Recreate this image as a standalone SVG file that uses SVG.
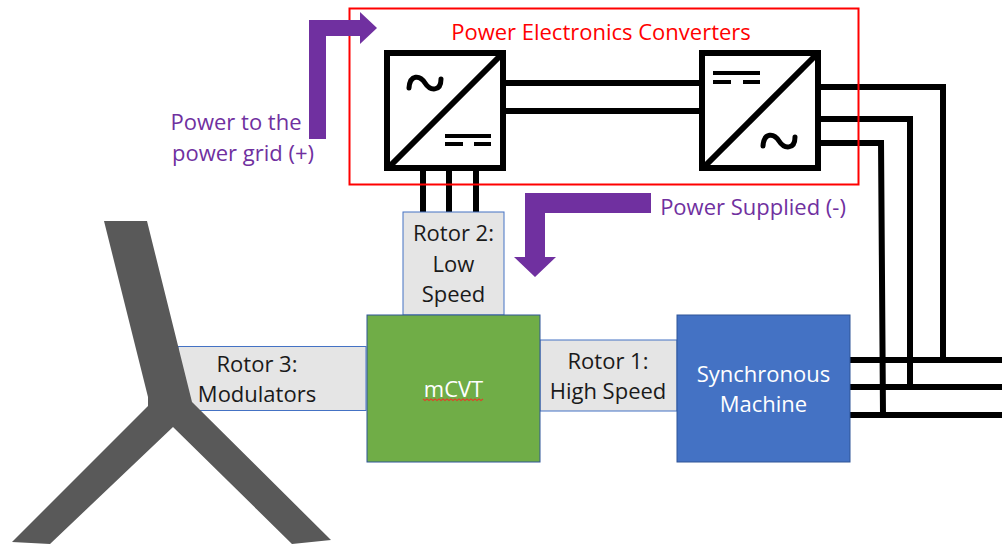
<svg xmlns="http://www.w3.org/2000/svg" width="1002" height="545" viewBox="0 0 1002 545">
<style>
text{font-family:"Open Sans","Noto Sans","Liberation Sans",sans-serif;font-size:22px;text-anchor:middle}
.dark{fill:#1a1a1a}.light{fill:#fff}.pur{fill:#7030a0}.red{fill:#f00}
.rotor{fill:#e5e5e5;stroke:#4472c4;stroke-width:1}
.box{stroke:#2f5597;stroke-width:1}
.wire{fill:none;stroke:#000;stroke-width:6}
.conv{fill:#fff;stroke:#000;stroke-width:6}
.sym{fill:none;stroke:#000;stroke-width:4}
.tilde{fill:none;stroke:#000;stroke-width:5;stroke-linecap:round}
.arrow{fill:#7030a0}
</style>
<rect width="1002" height="545" fill="#fff"/>
<g id="connectors">
<path class="wire" d="M423 171V212M449 171V212M476 171V212"/>
<path class="wire" d="M506 83H700M506 111H700"/>
<path class="wire" d="M821 87H943V360"/>
<path class="wire" d="M821 119H913M910 116V387"/>
<path class="wire" d="M821 143H884M881 140L883 415"/>
<path class="wire" d="M848 360H1002M850 387H1002M850 415H1002"/>
</g>
<g id="rotor3"><rect class="rotor" x="178" y="346.500" width="188" height="64"/><text class="dark" x="257" y="372">Rotor 3:</text><text class="dark" x="257" y="402">Modulators</text></g>
<g id="blades"><path fill="#595959" d="M104 221H147L192 402L331 540L292 544L173 427L50 544L12 542L148 406V397Z"/></g>
<g id="rotor2"><rect class="rotor" x="403" y="212" width="101" height="103"/><text class="dark" x="453.500" y="241">Rotor 2:</text><text class="dark" x="453.500" y="272">Low</text><text class="dark" x="453.500" y="302">Speed</text></g>
<g id="rotor1"><rect class="rotor" x="540" y="340" width="137" height="71"/><text class="dark" x="608" y="369">Rotor 1:</text><text class="dark" x="608" y="399">High Speed</text></g>
<g id="mcvt"><rect class="box" x="367" y="315" width="173" height="147" fill="#70ad47"/><text class="light" x="453.500" y="397">mCVT</text><path fill="none" stroke="#d9472b" stroke-width="1.200" d="M423 399l2 1.500 2-1.500 2 1.500 2-1.500 2 1.500 2-1.500 2 1.500 2-1.500 2 1.500 2-1.500 2 1.500 2-1.500 2 1.500 2-1.500 2 1.500 2-1.500 2 1.500 2-1.500 2 1.500 2-1.500 2 1.500 2-1.500 2 1.500 2-1.500 2 1.500 2-1.500 2 1.500 2-1.500 2 1.500 2-1.500"/></g>
<g id="synchronous-machine"><rect class="box" x="677" y="315" width="173" height="147" fill="#4472c4"/><text class="light" x="763.500" y="382">Synchronous</text><text class="light" x="763.500" y="412">Machine</text></g>
<g id="converter-group"><rect x="349.500" y="8.500" width="509" height="176" fill="none" stroke="#f00" stroke-width="2"/><text class="red" x="601" y="40">Power Electronics Converters</text></g>
<g id="converter-1"><rect class="conv" x="387" y="53" width="116" height="115"/><path class="conv" d="M389 167L503 53"/><path class="tilde" d="M409 88C410 74 420 75 425 83S441 92 441 79"/><path class="sym" d="M445 136H491M445 144H463M474 144H491"/></g>
<g id="converter-2"><rect class="conv" x="702" y="53" width="116" height="115"/><path class="conv" d="M704 167L818 53"/><path class="tilde" d="M763 146C764 132 774 133 779 141S795 150 795 137"/><path class="sym" d="M713 73H760M713 82H731M743 82H760"/></g>
<g id="arrow-to-grid"><path class="arrow" d="M309 139V20H360V12L377 28L360 44V36H326V139Z"/><text class="pur" x="236" y="130">Power to the</text><text class="pur" x="243" y="161">power grid (+)</text></g>
<g id="arrow-supplied"><path class="arrow" d="M651 193V213H545V257H556L535 277L514 257H525V193Z"/><text class="pur" x="753" y="215">Power Supplied (-)</text></g>
</svg>
